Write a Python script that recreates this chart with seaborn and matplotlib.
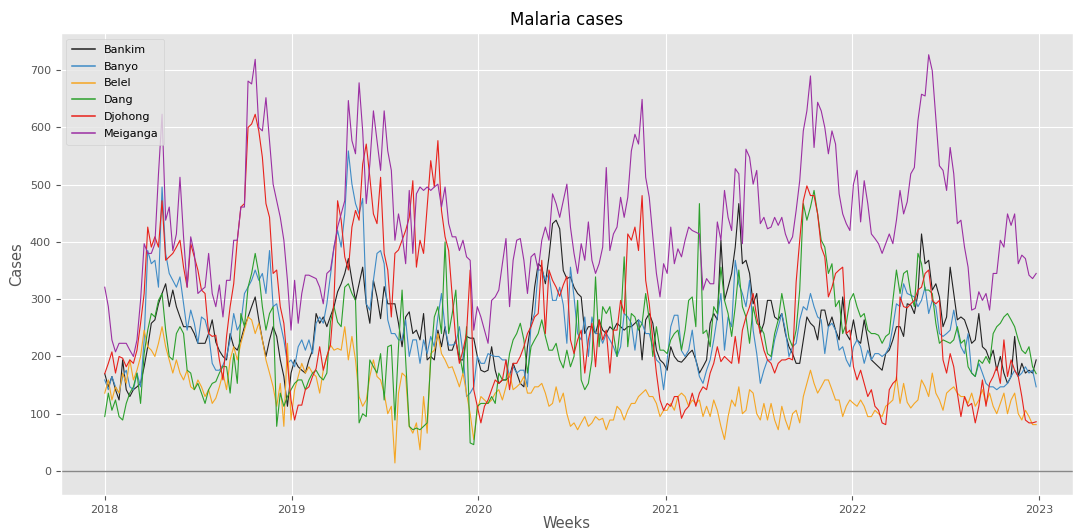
import matplotlib
matplotlib.use("Agg")
import matplotlib.pyplot as plt
import matplotlib.dates as mdates
from matplotlib.lines import Line2D
import numpy as np
import pandas as pd
import seaborn as sns

# Weekly malaria case counts per health district, 2018-01-01 .. 2022-12-26
start_date = "2018-01-01"
n_weeks = 261

bankim = [
    170, 147, 165, 142, 124, 194, 142, 130, 142, 147,
    153, 182, 217, 258, 264, 292, 310, 327, 287, 316,
    287, 269, 252, 252, 252, 240, 223, 223, 223, 240,
    264, 225, 210, 200, 194, 240, 217, 211, 229, 252,
    269, 287, 304, 264, 229, 200, 229, 252, 235, 194,
    165, 113, 171, 194, 182, 176, 171, 194, 211, 275,
    258, 269, 252, 270, 287, 313, 327, 345, 371, 333,
    298, 327, 356, 292, 258, 333, 304, 266, 322, 292,
    292, 292, 258, 217, 269, 278, 240, 246, 229, 275,
    194, 200, 194, 246, 217, 252, 211, 211, 229, 194,
    194, 235, 232, 232, 200, 176, 173, 176, 217, 176,
    153, 159, 159, 165, 188, 171, 153, 147, 217, 258,
    321, 362, 356, 327, 374, 432, 438, 423, 350, 336,
    339, 321, 310, 304, 240, 252, 252, 240, 264, 246,
    240, 252, 246, 258, 252, 246, 252, 252, 258, 264,
    194, 264, 275, 258, 211, 194, 188, 176, 217, 200,
    192, 190, 197, 205, 211, 194, 171, 182, 194, 258,
    275, 264, 403, 298, 321, 345, 391, 467, 362, 368,
    345, 292, 310, 240, 258, 298, 298, 269, 264, 275,
    240, 217, 205, 188, 188, 229, 269, 258, 252, 229,
    281, 281, 252, 269, 246, 229, 304, 240, 229, 264,
    229, 223, 264, 229, 194, 188, 182, 176, 205, 211,
    229, 252, 252, 235, 292, 290, 275, 310, 414, 362,
    368, 316, 327, 304, 252, 269, 356, 310, 264, 269,
    264, 246, 223, 229, 275, 217, 211, 194, 211, 176,
    200, 171, 153, 165, 235, 165, 188, 171, 176, 171, 194,
]

banyo = [
    159, 142, 165, 147, 136, 165, 176, 147, 142, 171,
    147, 229, 385, 362, 368, 321, 496, 380, 345, 333,
    321, 339, 292, 246, 281, 258, 223, 269, 264, 240,
    188, 176, 176, 185, 200, 229, 275, 246, 258, 310,
    321, 333, 351, 333, 345, 310, 385, 287, 292, 258,
    229, 188, 194, 182, 217, 229, 211, 229, 205, 258,
    269, 258, 292, 342, 391, 420, 391, 449, 559, 501,
    467, 449, 476, 292, 281, 333, 380, 385, 362, 264,
    240, 240, 229, 229, 264, 200, 229, 229, 188, 229,
    205, 235, 217, 269, 310, 250, 220, 220, 223, 252,
    205, 130, 136, 147, 200, 188, 188, 205, 202, 200,
    200, 194, 194, 165, 182, 171, 176, 176, 147, 258,
    275, 351, 351, 333, 345, 298, 298, 321, 290, 223,
    356, 304, 240, 229, 269, 200, 269, 240, 240, 223,
    240, 229, 217, 200, 217, 275, 269, 258, 211, 264,
    258, 240, 240, 217, 194, 188, 142, 194, 252, 272,
    272, 210, 200, 211, 246, 194, 165, 153, 176, 194,
    229, 269, 310, 211, 269, 252, 368, 327, 310, 287,
    333, 246, 205, 153, 176, 194, 194, 229, 252, 275,
    246, 200, 217, 223, 264, 287, 281, 310, 287, 269,
    264, 205, 252, 258, 246, 211, 217, 194, 182, 217,
    229, 217, 188, 211, 194, 205, 205, 200, 205, 217,
    252, 292, 287, 327, 310, 307, 304, 287, 298, 321,
    275, 298, 287, 240, 235, 240, 246, 281, 246, 217,
    205, 240, 171, 165, 188, 171, 153, 147, 147, 142,
    147, 147, 153, 165, 176, 165, 171, 182, 171, 176, 147,
]

belel = [
    136, 159, 124, 147, 136, 171, 153, 194, 159, 176,
    200, 246, 217, 211, 200, 223, 252, 217, 194, 171,
    194, 171, 159, 176, 147, 142, 159, 147, 130, 142,
    118, 127, 147, 171, 142, 194, 217, 194, 223, 246,
    269, 264, 240, 258, 229, 194, 171, 147, 113, 153,
    78, 223, 89, 142, 165, 188, 171, 182, 171, 165,
    136, 176, 200, 220, 211, 214, 211, 252, 194, 235,
    194, 130, 113, 124, 165, 194, 165, 159, 136, 100,
    113, 14, 136, 171, 165, 78, 66, 84, 37, 130,
    66, 205, 211, 240, 205, 194, 180, 182, 165, 147,
    171, 136, 100, 55, 106, 130, 124, 118, 124, 136,
    142, 124, 147, 171, 142, 147, 153, 165, 136, 136,
    147, 147, 153, 136, 113, 118, 147, 120, 136, 100,
    78, 84, 72, 84, 95, 78, 84, 95, 89, 92,
    72, 89, 89, 113, 106, 89, 106, 118, 118, 130,
    136, 142, 130, 130, 118, 95, 106, 106, 118, 106,
    130, 136, 130, 113, 124, 118, 124, 95, 113, 95,
    124, 106, 78, 55, 95, 124, 113, 147, 100, 106,
    142, 136, 100, 89, 118, 89, 118, 89, 72, 113,
    89, 72, 100, 106, 84, 130, 153, 176, 153, 136,
    147, 159, 159, 142, 124, 124, 95, 113, 124, 118,
    113, 124, 113, 95, 95, 106, 100, 95, 113, 118,
    124, 165, 118, 153, 120, 110, 118, 124, 159, 147,
    130, 171, 136, 124, 106, 136, 142, 147, 136, 130,
    130, 118, 136, 113, 124, 142, 118, 136, 113, 100,
    118, 136, 100, 124, 136, 100, 89, 106, 95, 81, 81,
]

dang = [
    95, 136, 106, 124, 95, 89, 118, 136, 147, 171,
    118, 205, 246, 275, 269, 298, 310, 246, 200, 194,
    240, 252, 240, 176, 171, 142, 153, 136, 118, 142,
    153, 156, 171, 183, 182, 136, 205, 153, 275, 252,
    321, 345, 380, 345, 287, 246, 275, 287, 78, 136,
    113, 130, 142, 153, 159, 159, 142, 159, 171, 176,
    165, 159, 171, 260, 287, 260, 252, 321, 327, 310,
    298, 84, 100, 95, 194, 182, 171, 205, 124, 217,
    220, 89, 217, 316, 194, 78, 72, 75, 72, 78,
    84, 194, 269, 287, 240, 400, 240, 275, 316, 205,
    171, 252, 49, 46, 113, 118, 118, 118, 130, 118,
    171, 159, 159, 205, 229, 240, 258, 229, 171, 217,
    229, 240, 264, 235, 211, 211, 223, 194, 180, 211,
    182, 200, 298, 159, 142, 153, 194, 339, 217, 287,
    275, 287, 240, 200, 258, 374, 217, 275, 269, 246,
    258, 310, 264, 200, 252, 211, 211, 205, 229, 240,
    246, 211, 246, 298, 304, 252, 467, 240, 246, 217,
    287, 275, 356, 298, 275, 235, 287, 351, 287, 269,
    223, 287, 258, 252, 240, 205, 200, 240, 264, 310,
    275, 232, 217, 246, 316, 467, 438, 461, 490, 449,
    403, 391, 345, 362, 287, 298, 240, 258, 298, 310,
    287, 269, 275, 246, 240, 240, 237, 223, 235, 240,
    298, 351, 310, 345, 350, 310, 287, 380, 362, 316,
    316, 310, 258, 223, 229, 226, 223, 229, 252, 223,
    229, 182, 171, 165, 194, 188, 200, 188, 240, 252,
    258, 269, 275, 264, 252, 229, 211, 205, 217, 182, 170,
]

djohong = [
    170, 188, 208, 171, 200, 197, 182, 194, 188, 211,
    258, 310, 426, 391, 409, 391, 472, 368, 374, 380,
    391, 403, 356, 321, 397, 374, 351, 316, 310, 240,
    235, 237, 194, 159, 235, 287, 327, 403, 461, 467,
    600, 606, 623, 594, 548, 467, 443, 345, 351, 287,
    258, 188, 124, 89, 115, 115, 142, 147, 165, 179,
    217, 176, 200, 220, 300, 472, 438, 374, 351, 426,
    455, 438, 536, 571, 513, 449, 432, 513, 380, 351,
    269, 380, 386, 403, 420, 443, 507, 356, 403, 380,
    461, 542, 496, 577, 455, 409, 385, 305, 229, 188,
    211, 240, 351, 142, 113, 84, 113, 124, 142, 159,
    153, 159, 194, 142, 188, 188, 200, 217, 240, 252,
    269, 275, 368, 240, 351, 333, 321, 305, 325, 340,
    229, 205, 229, 246, 171, 229, 258, 182, 264, 229,
    246, 171, 246, 246, 298, 275, 414, 403, 426, 385,
    481, 333, 292, 229, 171, 124, 106, 118, 113, 130,
    130, 92, 106, 113, 136, 113, 136, 147, 142, 171,
    188, 217, 191, 200, 194, 188, 235, 188, 246, 269,
    287, 310, 269, 240, 211, 194, 188, 171, 188, 194,
    194, 197, 194, 330, 403, 472, 498, 481, 481, 449,
    391, 374, 304, 321, 345, 351, 356, 240, 246, 182,
    159, 176, 153, 130, 142, 113, 106, 84, 81, 142,
    153, 159, 304, 287, 285, 292, 298, 316, 321, 345,
    351, 298, 292, 298, 194, 171, 205, 182, 136, 95,
    130, 113, 118, 84, 113, 159, 113, 153, 165, 182,
    153, 229, 165, 194, 176, 165, 130, 89, 84, 84, 86,
]

meiganga = [
    321, 287, 229, 208, 223, 223, 223, 211, 200, 229,
    298, 397, 380, 380, 397, 519, 623, 438, 461, 385,
    414, 513, 409, 321, 409, 380, 310, 316, 321, 380,
    310, 287, 325, 269, 333, 333, 403, 403, 461, 461,
    681, 676, 719, 600, 594, 652, 577, 501, 472, 443,
    403, 333, 246, 333, 258, 310, 342, 342, 339, 336,
    321, 292, 345, 351, 391, 426, 449, 472, 647, 577,
    554, 678, 594, 467, 536, 629, 577, 525, 629, 559,
    525, 403, 449, 414, 362, 490, 380, 484, 496, 490,
    496, 490, 496, 501, 461, 496, 432, 409, 409, 385,
    403, 374, 368, 246, 287, 269, 246, 223, 298, 304,
    316, 362, 406, 287, 368, 403, 406, 368, 310, 374,
    380, 351, 403, 426, 403, 484, 467, 443, 472, 501,
    426, 380, 345, 397, 368, 435, 368, 345, 362, 391,
    530, 385, 414, 426, 478, 443, 478, 559, 588, 571,
    649, 513, 478, 409, 345, 304, 362, 345, 426, 362,
    388, 374, 403, 426, 420, 417, 414, 316, 336, 327,
    327, 435, 403, 490, 443, 420, 528, 519, 397, 562,
    548, 501, 525, 432, 443, 423, 426, 443, 429, 443,
    414, 397, 409, 455, 507, 594, 629, 690, 565, 644,
    629, 600, 554, 594, 571, 484, 449, 432, 420, 501,
    525, 435, 507, 467, 414, 406, 397, 380, 397, 414,
    397, 438, 490, 449, 470, 519, 530, 612, 658, 655,
    727, 699, 617, 533, 525, 490, 565, 519, 432, 438,
    391, 356, 281, 284, 313, 298, 310, 281, 345, 345,
    403, 391, 449, 429, 449, 362, 377, 371, 342, 336, 345,
]

districts = ["Bankim", "Banyo", "Belel", "Dang", "Djohong", "Meiganga"]
series = [bankim, banyo, belel, dang, djohong, meiganga]
colors = ["#222222", "#3f8bc6", "#f5a623", "#2ca02c", "#e8221c", "#9b2fa3"]

weeks = pd.date_range(start_date, periods=n_weeks, freq="7D")

plt.style.use("ggplot")
fig = plt.figure(figsize=(10.73, 5.32), dpi=100)
ax = fig.add_axes([0.0566, 0.0695, 0.9434, 0.8685])

for values, color in zip(series, colors):
    sns.lineplot(x=weeks, y=np.asarray(values), ax=ax, color=color,
                 linewidth=0.8, legend=False)

ax.axhline(0, color="#888888", linewidth=1.0)

ax.set_xlim(pd.Timestamp("2017-10-07"), pd.Timestamp("2023-03-08"))
ax.set_ylim(-42, 765)
ax.xaxis.set_major_locator(mdates.YearLocator())
ax.xaxis.set_major_formatter(mdates.DateFormatter("%Y"))
ax.tick_params(labelsize=8)

ax.set_title("Malaria cases", fontsize=12)
ax.set_xlabel("Weeks", fontsize=10.5, labelpad=1)
ax.set_ylabel("Cases", fontsize=10.5)

legend_handles = [Line2D([0], [0], color=c, linewidth=1.1) for c in colors]
ax.legend(handles=legend_handles, labels=districts, loc="upper left",
          fontsize=8, labelspacing=0.62, borderpad=0.55)

fig.savefig("out.png", dpi=100)
